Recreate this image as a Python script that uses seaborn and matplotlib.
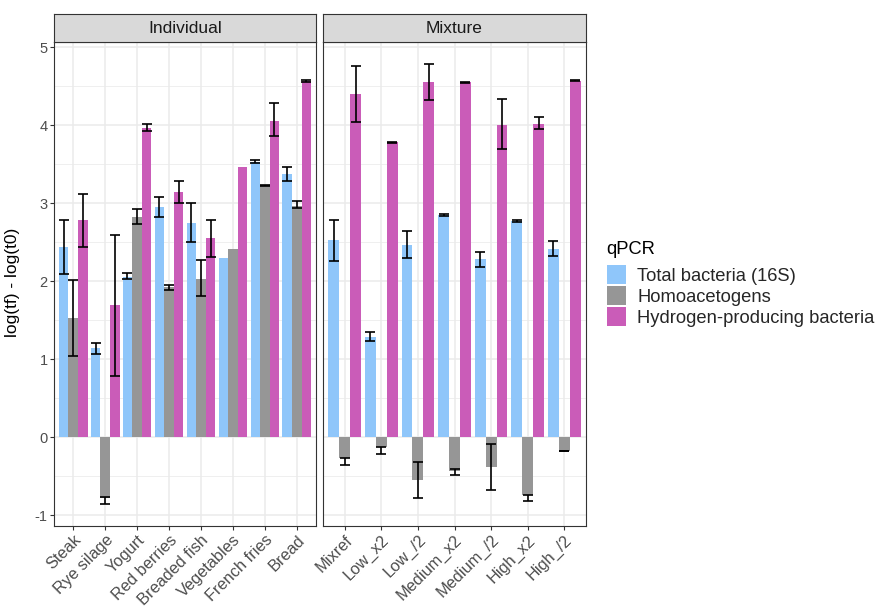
import numpy as np
import pandas as pd
import matplotlib
matplotlib.use("Agg")
import matplotlib.pyplot as plt
import seaborn as sns
from matplotlib.patches import Patch
from matplotlib.ticker import MultipleLocator

# ---------------- data ----------------
individual = ["Steak", "Rye silage", "Yogurt", "Red berries", "Breaded fish",
              "Vegetables", "French fries", "Bread"]
mixture = ["Mixref", "Low_x2", "Low_/2", "Medium_x2", "Medium_/2", "High_x2", "High_/2"]
groups = ["Total bacteria (16S)", "Homoacetogens", "Hydrogen-producing bacteria"]
colors = ["#8FC6FA", "#969696", "#CA5CB8"]

nan = np.nan
# Individual panel: mean, error-bar low, error-bar high
ind_total = [2.44, 1.14, 2.06, 2.95, 2.75, 2.30, 3.53, 3.37]
ind_total_lo = [2.10, 1.07, 2.03, 2.83, 2.51, nan, 3.52, 3.29]
ind_total_hi = [2.79, 1.21, 2.11, 3.08, 3.00, nan, 3.55, 3.46]
ind_homo = [1.53, -0.78, 2.82, 1.93, 2.03, 2.42, 3.23, 2.97]
ind_homo_lo = [1.04, -0.86, 2.73, 1.89, 1.81, nan, 3.22, 2.94]
ind_homo_hi = [2.02, -0.77, 2.93, 1.95, 2.27, nan, 3.24, 3.03]
ind_hyd = [2.78, 1.69, 3.96, 3.15, 2.55, 3.47, 4.06, 4.57]
ind_hyd_lo = [2.44, 0.79, 3.93, 3.01, 2.31, nan, 3.86, 4.55]
ind_hyd_hi = [3.12, 2.60, 4.02, 3.28, 2.78, nan, 4.28, 4.58]

# Mixture panel
mix_total = [2.53, 1.28, 2.47, 2.85, 2.28, 2.77, 2.41]
mix_total_lo = [2.26, 1.24, 2.30, 2.84, 2.18, 2.76, 2.32]
mix_total_hi = [2.79, 1.35, 2.65, 2.86, 2.38, 2.78, 2.52]
mix_homo = [-0.27, -0.12, -0.55, -0.43, -0.38, -0.74, -0.18]
mix_homo_lo = [-0.36, -0.21, -0.78, -0.48, -0.68, -0.82, -0.18]
mix_homo_hi = [-0.26, -0.12, -0.32, -0.41, -0.09, -0.74, -0.175]
mix_hyd = [4.40, 3.78, 4.55, 4.55, 4.01, 4.02, 4.57]
mix_hyd_lo = [4.04, 3.77, 4.33, 4.54, 3.69, 3.95, 4.565]
mix_hyd_hi = [4.76, 3.78, 4.78, 4.56, 4.34, 4.11, 4.575]

yticks = [-1, 0, 1, 2, 3, 4, 5]


def make_df(cats, series):
    rows = []
    for g, (vals, lo, hi) in zip(groups, series):
        for c, v, l, h in zip(cats, vals, lo, hi):
            rows.append(dict(sample=c, qPCR=g, value=v, lo=l, hi=h))
    return pd.DataFrame(rows)


df_ind = make_df(individual, [(ind_total, ind_total_lo, ind_total_hi),
                              (ind_homo, ind_homo_lo, ind_homo_hi),
                              (ind_hyd, ind_hyd_lo, ind_hyd_hi)])
df_mix = make_df(mixture, [(mix_total, mix_total_lo, mix_total_hi),
                           (mix_homo, mix_homo_lo, mix_homo_hi),
                           (mix_hyd, mix_hyd_lo, mix_hyd_hi)])

# ---------------- figure ----------------
sns.set_theme(style="white")
plt.rcParams["font.family"] = ["Liberation Sans", "DejaVu Sans"]

W, H = 875, 611
fig = plt.figure(figsize=(W / 100, H / 100), dpi=100)
fig.patch.set_facecolor("white")

panel_top, panel_bot = 42.3, 526.0
strip_top = 14.3
panels = [("Individual", df_ind, individual, 54, 316),
          ("Mixture", df_mix, mixture, 323, 586)]

grid_major = "#EBEBEB"
border = "#333333"
ylo, yhi = -1.137, 5.064

for idx, (title, df, cats, x0, x1) in enumerate(panels):
    ax = fig.add_axes([x0 / W, 1 - panel_bot / H, (x1 - x0) / W,
                       (panel_bot - panel_top) / H])
    ax.set_facecolor("white")
    sns.barplot(data=df, x="sample", y="value", hue="qPCR", order=cats,
                hue_order=groups, palette=colors, width=0.9, saturation=1,
                errorbar=None, legend=False, linewidth=0, ax=ax, zorder=2)
    n = len(cats)
    ax.set_xlim(-0.6, n - 0.4)
    ax.set_ylim(ylo, yhi)

    # error bars positioned from the drawn bars
    px_per_unit = (x1 - x0) / (n + 0.2)
    cap_pt = 0.15 * px_per_unit * 72 / 100
    for cont, g in zip(ax.containers, groups):
        sub = df[df.qPCR == g].set_index("sample").loc[cats]
        for patch, (_, r) in zip(cont.patches, sub.iterrows()):
            if np.isnan(r.lo):
                continue
            xc = patch.get_x() + patch.get_width() / 2
            ax.errorbar([xc], [r.value],
                        yerr=[[r.value - r.lo], [r.hi - r.value]],
                        fmt="none", ecolor="black", elinewidth=1.2,
                        capsize=cap_pt, capthick=1.2, zorder=3)

    ax.yaxis.set_major_locator(MultipleLocator(1))
    ax.yaxis.set_minor_locator(MultipleLocator(0.5))
    ax.grid(True, which="major", color=grid_major, linewidth=1.1, zorder=0)
    ax.grid(True, which="minor", axis="y", color=grid_major, linewidth=0.55, zorder=0)
    ax.set_axisbelow(True)
    for s in ax.spines.values():
        s.set_visible(True)
        s.set_color(border)
        s.set_linewidth(0.8)
    ax.set_xlabel("")
    ax.set_ylabel("")
    ax.tick_params(axis="both", which="major", length=3, width=0.8, color=border,
                   labelcolor="#4D4D4D", labelsize=10.5, pad=1.5, left=True, bottom=True)
    ax.tick_params(axis="y", which="minor", length=0)
    ax.set_xticks(range(n))
    ax.set_xticklabels(cats, rotation=45, ha="right", va="top",
                       rotation_mode="anchor", fontsize=11.8)
    ax.set_yticks(yticks)
    if idx == 0:
        ax.set_yticklabels([f"{t}" for t in yticks])
    else:
        ax.tick_params(axis="y", left=False, labelleft=False)

    # facet strip
    sax = fig.add_axes([x0 / W, 1 - panel_top / H, (x1 - x0) / W,
                        (panel_top - strip_top) / H])
    sax.set_facecolor("#D9D9D9")
    sax.set_xticks([])
    sax.set_yticks([])
    for s in sax.spines.values():
        s.set_visible(True)
        s.set_color(border)
        s.set_linewidth(0.8)
    sax.text(0.5, 0.5, title, ha="center", va="center", fontsize=12.5,
             color="#1A1A1A", transform=sax.transAxes)

# y axis title
fig.text(13 / W, 1 - 282 / H, "log(tf) - log(t0)", rotation=90, ha="center",
         va="center", fontsize=12.5, color="black")

# legend
fig.text(606 / W, 1 - 250 / H, "qPCR", ha="left", va="center", fontsize=13.2,
         color="black")
handles = [Patch(facecolor=c, edgecolor="none", label=g) for c, g in zip(colors, groups)]
leg = fig.legend(handles=handles, loc="upper left",
                 bbox_to_anchor=(607 / W, 1 - 265 / H), frameon=False,
                 fontsize=13.2, handlelength=1.05,
                 handleheight=1.25, handletextpad=0.6, labelspacing=0.06,
                 borderpad=0, borderaxespad=0)

fig.savefig("out.png", dpi=100, facecolor="white")
